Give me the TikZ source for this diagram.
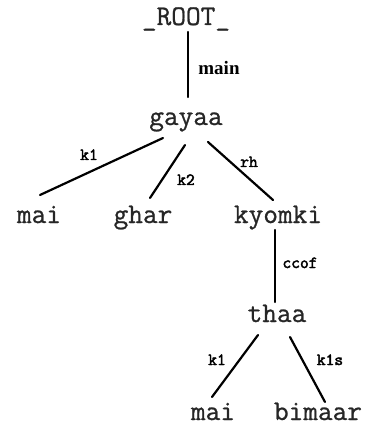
\documentclass[tikz,border=0pt]{standalone}
\usepackage{fontspec}
\newfontfamily\serifbf{Liberation Serif}
\newfontfamily\wordf[FakeBold=0.8]{Latin Modern Mono}
\newfontfamily\relf[FakeBold=2.5]{Latin Modern Mono}
\tikzset{
  word/.style={anchor=base, inner sep=0pt, font=\wordf\fontsize{28.5}{32}\selectfont, text=black!85},
  rel/.style={anchor=base, inner sep=0pt, font=\relf\fontsize{17}{19}\selectfont},
  mainlbl/.style={anchor=base, inner sep=0pt, font=\serifbf\bfseries\fontsize{19}{22}\selectfont},
  edge/.style={line width=2.2pt, black, line cap=round}
}
\begin{document}
\begin{tikzpicture}[x=1pt,y=-1pt]
\useasboundingbox[fill=white] (0,0) rectangle (365,430);
\node[word] (root) at (186,25) {\_ROOT\_};
\node[word] (gayaa) at (186,125) {gayaa};
\node[word] (mai) at (39,223) {mai};
\node[word] (ghar) at (143,223) {ghar};
\node[word] (kyomki) at (278,223) {kyomki};
\node[word] (thaa) at (277,322) {thaa};
\node[word] (mai2) at (213,420) {mai};
\node[word] (bimaar) at (318,420) {bimaar};

\draw[edge] ([shift={(2,7)}]root.base) -- ([shift={(2,-28)}]gayaa.base);
\draw[edge] ([shift={(-23,13)}]gayaa.base) -- ([shift={(1,-28)}]mai.base);
\draw[edge] ([shift={(-1,20)}]gayaa.base) -- ([shift={(7,-25)}]ghar.base);
\draw[edge] ([shift={(22,17)}]gayaa.base) -- ([shift={(-5,-23)}]kyomki.base);
\draw[edge] ([shift={(-3,7)}]kyomki.base) -- ([shift={(-2,-20)}]thaa.base);
\draw[edge] ([shift={(-19,13)}]thaa.base) -- ([shift={(-1,-23)}]mai2.base);
\draw[edge] ([shift={(13,15)}]thaa.base) -- ([shift={(7,-18)}]bimaar.base);

\node[mainlbl] (lmain) at (219,75) {main};
\node[rel] (lk1) at (89,160) {k1};
\node[rel] (lk2) at (186,185) {k2};
\node[rel] (lrh) at (249,167) {rh};
\node[rel] (lccof) at (300,268) {ccof};
\node[rel] (lk1b) at (217,365) {k1};
\node[rel] (lk1s) at (330,365) {k1s};
\end{tikzpicture}
\end{document}
